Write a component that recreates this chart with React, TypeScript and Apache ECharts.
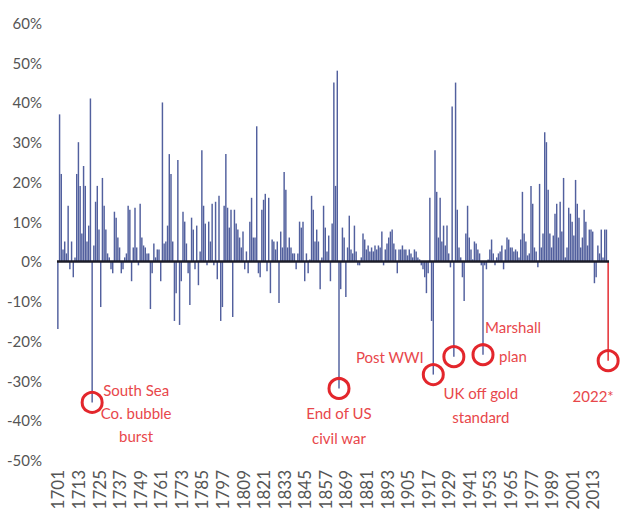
import React, { useEffect, useRef } from "react";
import * as echarts from "echarts";

// Annual returns (%), split by era
const returns1701to1753 = [
  -17, 37, 22, 3, 5, 2, 14, -2, 5, -4,
  1, 22, 30, 19, 7, 24, 19, 5, 9, 41,
  -35.5, 4, 15, 19, 8, -11.5, 21, 14, 8, 2,
  1, -2, -3, 12.5, 11, 6, 3.5, -3, -2, 1,
  2, 14, 13, -5, 3.5, 13.5, 3.5, -1, 14.5, 6,
  4, 3.5, 2,
];
const returns1754to1808 = [
  2, -12, -3, 4.5, 1, 3, 3, -5, 40, 4.5,
  5, 9, 27, 22, 5, -15, -8, 25.5, -16, -5,
  12.5, 10, 4.5, -3, -11, 11, 8, -2, 9, -6,
  2.5, 28, 14, 9.5, -1, 10, 5, 14.5, -1, 15,
  -4.5, 16.5, -15, -11.5, 14, 27, 13.5, 8.5, 13, -14,
  13, 9.5, 8, 6, 3.5,
];
const returns1809to1861 = [
  7.5, -2, 2.5, -3, 10, 16, 6, 6, 34, -3,
  -4, 13, 15.5, 17, -2.5, 16, -8, 5.5, 5, 3,
  5, -10.5, 7.5, 3.5, 22.5, 18, 3.5, 6, 3.5, 2,
  2, -2, 2, 10, 8.5, 10, -5, 2, -3, 0.5,
  16.5, 13, 5, 8, 5, -7, 1, 14, 8.5, 2.5,
  6.5, -5, 9.5,
];
const returns1862to1865 = [45, 19, 48, -32];
const returns1866to1912 = [
  -7, 8.5, 6, -9, 3.5, 11.5, 3, 2, 9, 2.5,
  -1, -1, 1, 7, 5.5, 3, 4, 2.5, 3.5, 2.5,
  4, 3, 4, 3.5, 7.5, -1, 3, 4.5, 6, 7.5,
  8, 4.5, 3, -3, 3, 3, 4, 3, 3, 1.5,
  3, 2, 1, 3, 2.5, 1, 0.5,
];
const returns1913to1933 = [
  -1, -2, -4, -8, -3, 16, -15, -28.5, 28, 17.5,
  6, 16, 5, 9, 4, 9, 2, -1.5, 39, -24,
  45,
];
const returns1934to1971 = [
  13, 3.5, 1, -4, -10, 7, 14, 6, 3, 0.5,
  5, 4.5, 3, 2, -1, -23.5, -1, -2, 0.5, 3,
  5.5, 2, -1, 1, 2, 2.5, 4, -2, 3, 6,
  5.5, 3.5, 3.5, 2.5, 3, 2.5, 1, 5.5,
];
const returns1972to2022 = [
  17.5, 7, 5, 1.5, 2, 19, 14.5, 3.5, 2.5, -1.5,
  19.5, 3.5, 7, 32.5, 30, 18, 7, 3.5, 6.5, 12,
  14.5, 6, 15, 7.5, 21, 1, 3.5, 13.5, 12, 10,
  6.5, 20.5, 14.5, 11, 3.5, 6, 13, 10, 4, 8,
  8, 7.5, -5.5, -4, 4, 2, 8, 1, 8, 8,
  -25,
];

const returns = [
  ...returns1701to1753,
  ...returns1754to1808,
  ...returns1809to1861,
  ...returns1862to1865,
  ...returns1866to1912,
  ...returns1913to1933,
  ...returns1934to1971,
  ...returns1972to2022,
];
const firstYear = 1701;
const years = returns.map((_, i) => String(firstYear + i));

const highlightYear = "2022";

const annotationYears = ["1721", "1865", "1920", "1932", "1949", "2022"];
const annotationTexts = [
  "South Sea\nCo. bubble\nburst",
  "End of US\ncivil war",
  "Post WWI",
  "UK off gold\nstandard",
  "Marshall\nplan",
  "2022*",
];

const FONT = "Lato, 'Liberation Sans', sans-serif";
const RED = "#e3262c";
const RED_TEXT = "#e8474b";
const BAR = "#52609e";

const labelLayouts: any[] = [
  { position: "inside", offset: [44, 11], lineHeight: 23, align: "center" },
  { position: "bottom", distance: 1, lineHeight: 25 },
  { position: "left", distance: -2, offset: [0, -18], lineHeight: 22 },
  { position: "bottom", distance: 13, offset: [27, 0], lineHeight: 24 },
  { position: "inside", offset: [30, -13], lineHeight: 29 },
  { position: "bottom", distance: 13, offset: [-15, 0], lineHeight: 22 },
];

export default function App() {
  const ref = useRef<HTMLDivElement>(null);

  useEffect(() => {
    document.body.style.margin = "0";
    if (!ref.current) return;
    const chart = echarts.init(ref.current, undefined, { renderer: "svg" });

    const barData = returns.map((v, i) =>
      years[i] === highlightYear ? { value: v, itemStyle: { color: RED } } : v
    );

    const markPoints = annotationYears.map((y, k) => {
      const lay = labelLayouts[k];
      return {
        coord: [y, returns[years.indexOf(y)]],
        label: {
          show: true,
          formatter: annotationTexts[k],
          color: RED_TEXT,
          fontSize: 15,
          fontFamily: FONT,
          ...lay,
        },
      };
    });

    chart.setOption({
      animation: false,
      grid: { left: 57, right: 21, top: 23, bottom: 57 },
      xAxis: {
        type: "category",
        data: years,
        boundaryGap: true,
        axisLine: { show: false },
        axisTick: { show: false },
        axisLabel: {
          interval: 11,
          rotate: 90,
          margin: 10,
          fontSize: 17,
          color: "#555",
          fontFamily: FONT,
        },
      },
      yAxis: {
        type: "value",
        min: -50,
        max: 60,
        interval: 10,
        axisLine: { show: false },
        axisTick: { show: false },
        splitLine: { show: false },
        axisLabel: {
          formatter: (v: number) => `${v}%`,
          fontSize: 15,
          color: "#555",
          margin: 15,
          fontFamily: FONT,
        },
      },
      series: [
        {
          type: "bar",
          data: barData,
          barCategoryGap: "15%",
          itemStyle: { color: BAR },
          markLine: {
            silent: true,
            symbol: ["none", "none"],
            label: { show: false },
            lineStyle: { color: "#1c1c28", width: 2.5, type: "solid" },
            data: [{ yAxis: 0 }],
          },
          markPoint: {
            symbol: "circle",
            symbolSize: 20,
            silent: true,
            itemStyle: { color: "rgba(0,0,0,0)", borderColor: RED, borderWidth: 3 },
            data: markPoints,
          },
        },
      ],
    });

    return () => chart.dispose();
  }, []);

  return (
    <div
      ref={ref}
      style={{ position: "absolute", left: 0, top: 0, width: 630, height: 517 }}
    />
  );
}
